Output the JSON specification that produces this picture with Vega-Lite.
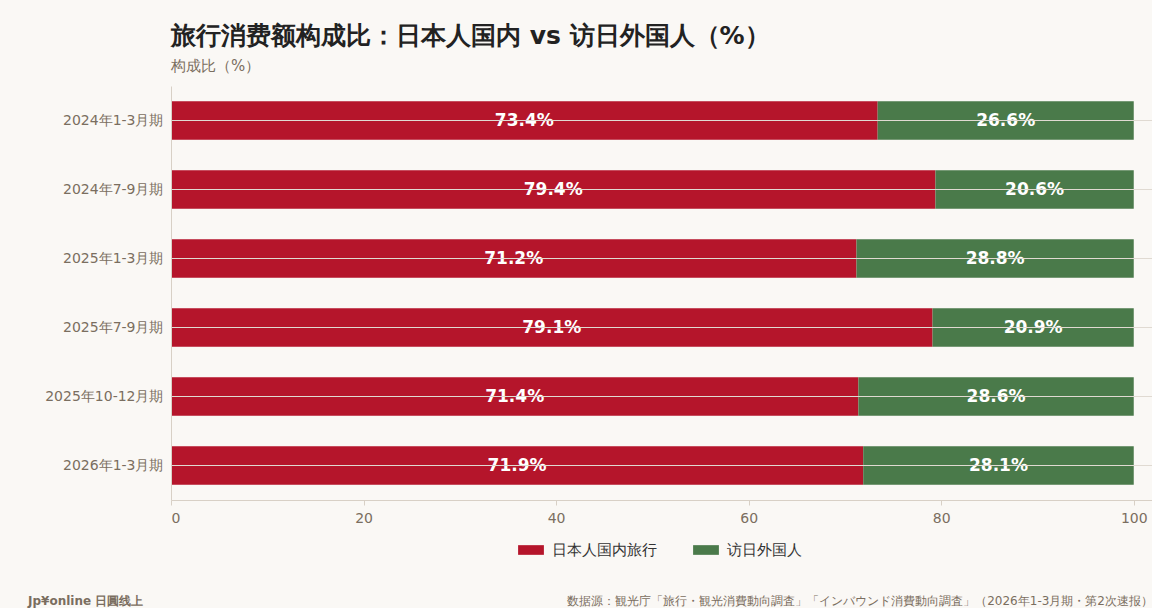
{
  "$schema": "https://vega.github.io/schema/vega-lite/v6.json",
  "background": "#FAF8F5",
  "padding": {"left": 28, "top": 24, "right": 16, "bottom": 50},
  "width": 982,
  "height": 414,
  "title": {
    "text": "旅行消费额构成比：日本人国内 vs 访日外国人（%）",
    "subtitle": "构成比（%）",
    "anchor": "start",
    "frame": "group",
    "offset": 12,
    "fontSize": 25,
    "fontWeight": "bold",
    "color": "#222222",
    "subtitleFontSize": 15,
    "subtitleColor": "#7A6E60",
    "subtitlePadding": 10
  },
  "datasets": {
    "footer": [
      {"side": "left", "text": "Jp¥online 日圓线上"},
      {"side": "right", "text": "数据源：観光庁「旅行・観光消費動向調査」「インバウンド消費動向調査」（2026年1-3月期・第2次速报）"}
    ]
  },
  "data": {
    "values": [
      {"period": "2024年1-3月期", "type": "日本人国内旅行", "share": 73.4},
      {"period": "2024年1-3月期", "type": "访日外国人", "share": 26.6},
      {"period": "2024年7-9月期", "type": "日本人国内旅行", "share": 79.4},
      {"period": "2024年7-9月期", "type": "访日外国人", "share": 20.6},
      {"period": "2025年1-3月期", "type": "日本人国内旅行", "share": 71.2},
      {"period": "2025年1-3月期", "type": "访日外国人", "share": 28.8},
      {"period": "2025年7-9月期", "type": "日本人国内旅行", "share": 79.1},
      {"period": "2025年7-9月期", "type": "访日外国人", "share": 20.9},
      {"period": "2025年10-12月期", "type": "日本人国内旅行", "share": 71.4},
      {"period": "2025年10-12月期", "type": "访日外国人", "share": 28.6},
      {"period": "2026年1-3月期", "type": "日本人国内旅行", "share": 71.9},
      {"period": "2026年1-3月期", "type": "访日外国人", "share": 28.1}
    ]
  },
  "layer": [
    {
      "transform": [
        {"calculate": "datum.type === '日本人国内旅行' ? 0 : 1", "as": "ord"},
        {"stack": "share", "groupby": ["period"], "sort": [{"field": "ord"}], "as": ["s0", "s1"]},
        {"calculate": "(datum.s0 + datum.s1) / 2", "as": "mid"},
        {"calculate": "format(datum.share, '.1f') + '%'", "as": "lbl"}
      ],
      "encoding": {
        "y": {
          "field": "period",
          "type": "nominal",
          "sort": null,
          "title": null,
          "scale": {"paddingInner": 0.44, "paddingOuter": 0.22},
          "axis": {
            "grid": true, "gridColor": "#E0DAD2", "gridWidth": 1, "bandPosition": 0.5, "zindex": 1,
            "ticks": false, "domain": true, "domainColor": "#D8D0C6",
            "labelFontSize": 14, "labelColor": "#7A6E60", "labelPadding": 8
          }
        }
      },
      "layer": [
        {
          "mark": {"type": "bar"},
          "encoding": {
            "x": {
              "field": "s0", "type": "quantitative", "title": null,
              "scale": {"domain": [0, 102], "nice": false},
              "axis": {
                "values": [0, 20, 40, 60, 80, 100], "grid": false, "ticks": true, "tickColor": "#D8D0C6",
                "domainColor": "#D8D0C6", "labelFontSize": 14, "labelColor": "#7A6E60", "labelPadding": 6
              }
            },
            "x2": {"field": "s1"},
            "color": {
              "field": "type", "type": "nominal", "title": null,
              "scale": {"domain": ["日本人国内旅行", "访日外国人"], "range": ["#B5152B", "#4A7A4A"]},
              "legend": {
                "orient": "bottom", "direction": "horizontal", "labelFontSize": 15, "labelColor": "#333333",
                "symbolType": "M-1.6,-0.6H1.6V0.6H-1.6Z", "symbolSize": 260, "symbolOpacity": 1,
                "labelOffset": 12, "columnPadding": 36, "offset": 16
              }
            }
          }
        },
        {
          "mark": {"type": "text", "color": "white", "fontSize": 17, "fontWeight": "bold"},
          "encoding": {
            "x": {"field": "mid", "type": "quantitative"},
            "text": {"field": "lbl", "type": "nominal"}
          }
        }
      ]
    },
    {
      "data": {"name": "footer"},
      "transform": [{"filter": "datum.side === 'right'"}],
      "mark": {"type": "text", "align": "right", "baseline": "bottom", "fontSize": 12, "color": "#7A6E60", "y": 108, "yOffset": 414},
      "encoding": {
        "x": {"datum": 102, "type": "quantitative"},
        "text": {"field": "text"}
      }
    },
    {
      "data": {"name": "footer"},
      "transform": [{"filter": "datum.side === 'left'"}],
      "mark": {"type": "text", "align": "left", "baseline": "bottom", "fontSize": 12, "fontWeight": "bold", "color": "#7A6E60", "y": 108, "yOffset": 414, "dx": -143},
      "encoding": {
        "x": {"datum": 0, "type": "quantitative"},
        "text": {"field": "text"}
      }
    }
  ],
  "config": {
    "font": "DejaVu Sans",
    "view": {"stroke": null},
    "legend": {"layout": {"bottom": {"anchor": "middle"}}}
  }
}
